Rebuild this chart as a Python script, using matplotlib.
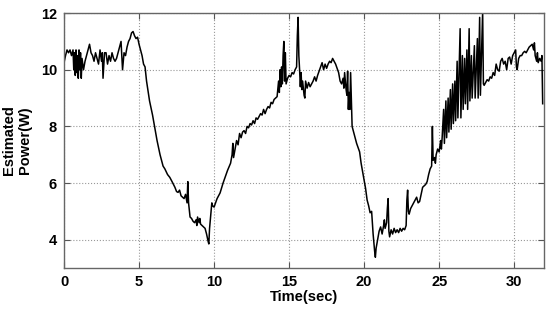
"""
Estimated power over time (single noisy trace), MATLAB-style axes.
Output: out.png (550x312)
"""

import matplotlib
matplotlib.use('Agg')
import matplotlib.pyplot as plt

# time (sec) and estimated power (W)
time_s = [
    0.0, 0.1, 0.2, 0.3, 0.4, 0.5, 0.6, 0.65, 0.7, 0.75, 0.8, 0.85, 0.9, 0.95,
    1.0, 1.05, 1.1, 1.15, 1.2, 1.3, 1.4, 1.5, 1.6, 1.7, 1.8, 1.9, 2.0, 2.1,
    2.2, 2.3, 2.4, 2.5, 2.55, 2.6, 2.7, 2.8, 2.9, 3.0, 3.1, 3.2, 3.3, 3.4,
    3.5, 3.6, 3.7, 3.8, 3.85, 3.9, 4.0, 4.1, 4.2, 4.3, 4.4, 4.5, 4.6, 4.7,
    4.8, 4.9, 5.0, 5.1, 5.2, 5.3, 5.4, 5.5, 5.7, 5.9, 6.05, 6.2, 6.4, 6.6,
    6.72, 6.9, 7.05, 7.2, 7.39, 7.5, 7.6, 7.7, 7.8, 7.9, 8.0, 8.1, 8.2, 8.25,
    8.3, 8.4, 8.5, 8.6, 8.7, 8.8, 8.85, 8.9, 9.0, 9.05, 9.1, 9.2, 9.3, 9.4,
    9.5, 9.6, 9.65, 9.7, 9.8, 9.85, 9.9, 10.0, 10.1, 10.2, 10.4, 10.6, 10.9,
    11.1, 11.2, 11.25, 11.3, 11.4, 11.5, 11.6, 11.7, 11.8, 11.9, 12.0, 12.1,
    12.2, 12.3, 12.4, 12.5, 12.6, 12.7, 12.8, 12.9, 13.0, 13.1, 13.2, 13.3,
    13.4, 13.5, 13.6, 13.7, 13.8, 13.9, 14.0, 14.1, 14.2, 14.3, 14.35, 14.4,
    14.45, 14.5, 14.55, 14.6, 14.65, 14.7, 14.75, 14.8, 14.9, 15.0, 15.1,
    15.2, 15.3, 15.4, 15.5, 15.55, 15.6, 15.65, 15.7, 15.75, 15.8, 15.85,
    15.9, 16.0, 16.05, 16.1, 16.2, 16.3, 16.4, 16.5, 16.6, 16.7, 16.8, 16.9,
    17.0, 17.1, 17.2, 17.3, 17.4, 17.5, 17.6, 17.7, 17.8, 17.9, 18.0, 18.1,
    18.2, 18.3, 18.4, 18.5, 18.6, 18.65, 18.7, 18.8, 18.85, 18.9, 18.95,
    19.0, 19.05, 19.1, 19.15, 19.2, 19.3, 19.4, 19.5, 19.6, 19.7, 19.8, 19.9,
    20.0, 20.1, 20.2, 20.3, 20.4, 20.5, 20.6, 20.7, 20.75, 20.8, 20.9, 21.0,
    21.1, 21.2, 21.3, 21.35, 21.4, 21.5, 21.55, 21.6, 21.65, 21.7, 21.8,
    21.9, 22.0, 22.1, 22.2, 22.3, 22.4, 22.5, 22.6, 22.7, 22.8, 22.85, 22.9,
    22.95, 23.0, 23.1, 23.2, 23.3, 23.4, 23.5, 23.6, 23.7, 23.8, 23.9, 24.0,
    24.1, 24.2, 24.3, 24.4, 24.5, 24.55, 24.6, 24.7, 24.75, 24.8, 24.9, 25.0,
    25.1, 25.15, 25.2, 25.3, 25.35, 25.45, 25.5, 25.6, 25.65, 25.75, 25.8,
    25.9, 25.95, 26.05, 26.1, 26.2, 26.25, 26.4, 26.45, 26.55, 26.6, 26.7,
    26.75, 26.85, 26.9, 27.0, 27.05, 27.15, 27.2, 27.35, 27.4, 27.55, 27.6,
    27.7, 27.75, 27.9, 27.95, 28.0, 28.1, 28.2, 28.3, 28.4, 28.5, 28.6, 28.7,
    28.8, 28.9, 29.0, 29.1, 29.2, 29.3, 29.4, 29.5, 29.6, 29.7, 29.8, 29.9,
    30.0, 30.1, 30.15, 30.2, 30.3, 30.4, 30.5, 30.6, 30.7, 30.8, 30.9, 31.0,
    31.1, 31.2, 31.3, 31.35, 31.4, 31.5, 31.55, 31.6, 31.7, 31.8, 31.85, 31.9,
]

power_w = [
    10.25, 10.5, 10.7, 10.6, 10.7, 10.5, 10.7, 10.0, 10.6, 9.8, 10.7, 9.9, 10.5, 9.7,
    10.7, 10.0, 10.6, 9.7, 10.4, 10.0, 10.3, 10.5, 10.7, 10.9, 10.6, 10.5, 10.3, 10.6,
    10.4, 10.2, 10.7, 10.3, 10.6, 9.7, 10.6, 10.6, 10.2, 10.5, 10.3, 10.6, 10.4, 10.3,
    10.4, 10.6, 10.8, 11.0, 10.5, 10.0, 10.6, 10.5, 10.8, 11.0, 11.1, 11.3, 11.35, 11.2,
    11.1, 11.15, 10.9, 10.7, 10.5, 10.2, 10.1, 9.6, 8.9, 8.4, 7.95, 7.5, 7.0, 6.6,
    6.5, 6.3, 6.2, 6.05, 5.85, 5.7, 5.67, 5.75, 5.55, 5.5, 5.45, 5.6, 5.3, 6.05,
    5.3, 4.8, 4.75, 4.65, 4.6, 4.7, 4.5, 4.8, 4.6, 4.75, 4.55, 4.5, 4.45, 4.4,
    4.2, 3.95, 3.85, 4.4, 5.0, 5.3, 5.2, 5.15, 5.3, 5.45, 5.65, 6.0, 6.45,
    6.7, 7.0, 7.4, 6.9, 7.2, 7.5, 7.35, 7.75, 7.6, 7.8, 7.85, 7.75,
    8.0, 7.95, 8.1, 8.05, 8.2, 8.1, 8.3, 8.25, 8.35, 8.45, 8.4, 8.6,
    8.45, 8.6, 8.7, 8.65, 8.85, 8.8, 8.95, 9.0, 9.05, 9.6, 9.2, 10.0,
    9.4, 10.1, 9.5, 10.5, 11.0, 9.6, 10.6, 9.5, 9.7, 9.8, 9.75,
    9.9, 9.85, 10.0, 10.1, 11.2, 11.85, 10.5, 10.0, 9.4, 9.9, 9.3,
    9.6, 9.1, 9.0, 9.6, 9.35, 9.55, 9.4, 9.5, 9.6, 9.75, 9.6, 9.8,
    9.95, 10.1, 10.25, 10.0, 10.2, 10.05, 10.2, 10.3, 10.25, 10.4, 10.3, 10.2,
    10.05, 9.9, 9.6, 9.5, 9.7, 9.35, 9.9, 9.3, 9.1, 9.95, 8.6,
    9.2, 8.6, 9.9, 9.0, 8.0, 7.8, 7.6, 7.4, 7.25, 7.1, 6.7, 6.4,
    6.1, 5.8, 5.4, 5.2, 4.95, 5.0, 4.2, 3.6, 3.38, 3.7, 4.0, 4.3,
    4.45, 4.2, 4.5, 4.7, 4.4, 4.6, 5.1, 5.45, 4.3, 4.1, 4.35,
    4.2, 4.4, 4.25, 4.35, 4.25, 4.4, 4.3, 4.4, 4.35, 4.5, 5.4, 5.75,
    5.0, 4.9, 5.1, 5.2, 5.3, 5.4, 5.5, 5.3, 5.35, 5.6, 5.85, 5.9,
    5.95, 6.05, 6.3, 6.5, 6.6, 8.0, 6.8, 6.9, 6.7, 7.0, 7.2, 7.1,
    7.5, 7.2, 7.6, 8.6, 7.4, 8.9, 7.6, 9.0, 7.8, 9.3, 7.9,
    9.5, 8.1, 9.6, 8.2, 10.3, 8.3, 11.45, 8.3, 10.5, 8.6, 10.4,
    8.8, 10.7, 8.6, 11.45, 8.9, 10.5, 9.0, 10.85, 9.0, 11.1, 9.0,
    11.85, 9.1, 12.05, 9.5, 9.45, 9.55, 9.65, 9.6, 9.75, 9.7, 9.9, 9.8,
    10.2, 10.0, 9.95, 10.3, 10.4, 10.2, 10.3, 10.0, 10.4, 10.45, 10.2, 10.5,
    10.6, 10.7, 10.1, 10.0, 10.4, 10.5, 10.5, 10.6, 10.65, 10.6, 10.7, 10.8,
    10.85, 10.9, 10.7, 10.95, 10.5, 10.3, 10.6, 10.25, 10.4, 10.3, 10.5, 8.8,
]

x_ticks = [0, 5, 10, 15, 20, 25, 30]
y_ticks = [4, 6, 8, 10, 12]

plt.rcParams['font.family'] = ['Liberation Sans', 'DejaVu Sans']

fig = plt.figure(figsize=(5.5, 3.12), dpi=100)
ax = fig.add_axes([0.1164, 0.141, 0.873, 0.817])

ax.plot(time_s, power_w, color='black', linewidth=1.1)

ax.set_xlim(0, 32)
ax.set_ylim(3, 12)
ax.set_xticks(x_ticks)
ax.set_yticks(y_ticks)
ax.tick_params(direction='in', top=True, right=True, length=4,
               labelsize=10.5, color='#555555', pad=5)
for lab in ax.get_xticklabels() + ax.get_yticklabels():
    lab.set_fontweight('bold')

ax.grid(True, linestyle=':', color='#999999', linewidth=0.8)
for sp in ax.spines.values():
    sp.set_color('#666666')
    sp.set_linewidth(1.0)

ax.set_xlabel('Time(sec)', fontsize=10.5, fontweight='bold', labelpad=1)
ax.set_ylabel('Estimated\nPower(W)', fontsize=10.5, fontweight='bold', labelpad=6)

fig.savefig('out.png', dpi=100)
